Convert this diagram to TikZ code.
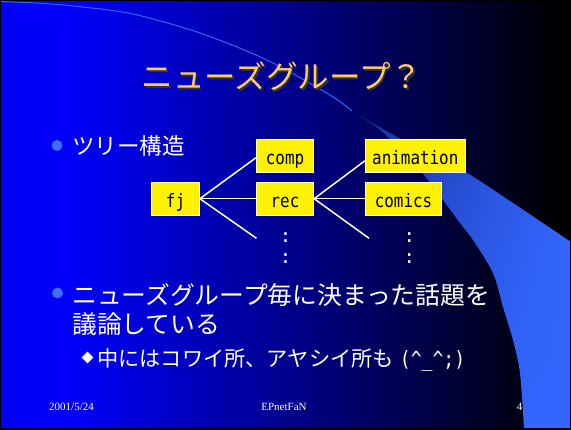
\documentclass[tikz,border=0pt]{standalone}
\usepackage{fontspec}
\usetikzlibrary{shadings,shapes.geometric}
\setmainfont{Liberation Serif}
\newfontfamily\jp{Noto Sans CJK JP}
\newfontfamily\boxfont[FakeStretch=0.86]{DejaVu Sans Mono}
\newfontfamily\monofnt{DejaVu Sans Mono}
\newfontfamily\smilefnt[FakeStretch=0.86]{DejaVu Sans Mono}
\definecolor{bgblue}{RGB}{0,0,250}
\definecolor{swblue}{RGB}{51,102,255}
\definecolor{swdark}{RGB}{20,40,140}
\definecolor{titlec}{RGB}{255,204,102}
\definecolor{bulletc}{RGB}{60,110,255}
\begin{document}
\begin{tikzpicture}[x=1pt,y=-1pt,
  leaf/.style={draw=white, line width=0.8pt, fill=yellow, inner sep=0pt,
    text=black, text height=20pt, text depth=3pt, minimum height=33pt,
    font=\boxfont\fontsize{18.5}{20}\selectfont},
  link/.style={draw=white, line width=1.5pt},
  dotsty/.style={text=white, inner sep=0pt, anchor=base, font=\monofnt\fontsize{19}{20}\selectfont},
  bul/.style={circle, fill=bulletc, inner sep=0pt, minimum size=11pt},
  jtext/.style={text=white, inner sep=0pt, anchor=base west},
  foot/.style={text=white, inner sep=0pt, anchor=base, font=\fontsize{11}{12}\selectfont}]
\useasboundingbox (0,0) rectangle (571,429);
% background
\fill[bgblue] (-5,-5) rectangle (72,434);
\shade[left color=bgblue, right color=black] (71.5,-5) rectangle (560,434);
\fill[black] (559.5,-5) rectangle (576,434);
% swoosh
\draw[swblue, line width=1pt] plot[smooth] coordinates {(0,1.5) (42,3.3) (80,6.7) (133,14) (200,33) (267,60) (330,95) (352,111)};
\shade[upper left=swdark, upper right=swblue, lower left=swblue, lower right=swblue]
  plot[smooth] coordinates {(350,110) (390,133) (430,155) (467,173) (510,201) (571,242)}
  -- (571,428) -- (524,428)
  -- plot[smooth] coordinates {(524,428) (520,373) (513,340) (503,307) (493,273) (473,240) (460,223) (420,170) (380,130) (350,110)}
  -- cycle;
% frame
\fill[black] (-5,-5) rectangle (576,1);
\fill[black] (-5,428) rectangle (576,434);
\fill[black] (-5,-5) rectangle (1,434);
\fill[black] (570,-5) rectangle (576,434);
% title
\node[text=black!80, font=\jp\fontsize{31.5}{34}\selectfont, inner sep=0pt] at (283.5,78) {ニューズグループ？};
\node[text=titlec, font=\jp\fontsize{31.5}{34}\selectfont, inner sep=0pt] (title) at (282,76.5) {ニューズグループ？};
% bullet 1
\node[bul] (b1) at (57,145.5) {};
\node[jtext, font=\jp\fontsize{22.5}{26}\selectfont] (t1) at (72,154.5) {ツリー構造};
% tree
\node[leaf, minimum width=48pt] (fj) at (175.5,198.7) {fj};
\node[leaf, minimum width=57.5pt] (comp) at (285,155.8) {comp};
\node[leaf, minimum width=57.5pt] (rec) at (285,198.7) {rec};
\node[leaf, minimum width=100pt] (anim) at (415.3,155.8) {animation};
\node[leaf, minimum width=76.5pt] (comics) at (403.5,198.7) {comics};
\coordinate (fjmore) at (256.5,238.3);
\coordinate (recmore) at (369,238.3);
\draw[link] (fj.east) -- ([yshift=-2pt]comp.west);
\draw[link] (fj.east) -- (rec.west);
\draw[link] (fj.east) -- (fjmore);
\draw[link] (rec.east) -- ([yshift=-5pt]anim.west);
\draw[link] (rec.east) -- (comics.west);
\draw[link] (rec.east) -- (recmore);
\node[dotsty] (dA1) at (285.7,242.5) {:};
\node[dotsty] (dA2) at (285.7,263.5) {:};
\node[dotsty] (dB1) at (409.3,242.5) {:};
\node[dotsty] (dB2) at (409.3,263.5) {:};
% bullet 2
\node[bul] (b2) at (57.5,293) {};
\node[jtext, font=\jp\fontsize{24.8}{28}\selectfont] (t2a) at (72,304.5) {ニューズグループ毎に決まった話題を};
\node[jtext, font=\jp\fontsize{24.8}{28}\selectfont] (t2b) at (72,333) {議論している};
% sub-bullet
\node[diamond, fill=white, inner sep=0pt, minimum size=12pt] (b3) at (87.5,357.5) {};
\node[jtext, font=\jp\fontsize{21.2}{24}\selectfont] (t3) at (97,366) {中にはコワイ所、アヤシイ所も{\smilefnt\fontsize{21}{24}\selectfont\hspace{6pt}(\^{}\_\^{};)}};
% footer
\node[foot] (date) at (71.5,410.5) {2001/5/24};
\node[foot] (name) at (284,410.5) {EPnetFaN};
\node[foot] (page) at (519.5,410.5) {4};
\end{tikzpicture}
\end{document}
